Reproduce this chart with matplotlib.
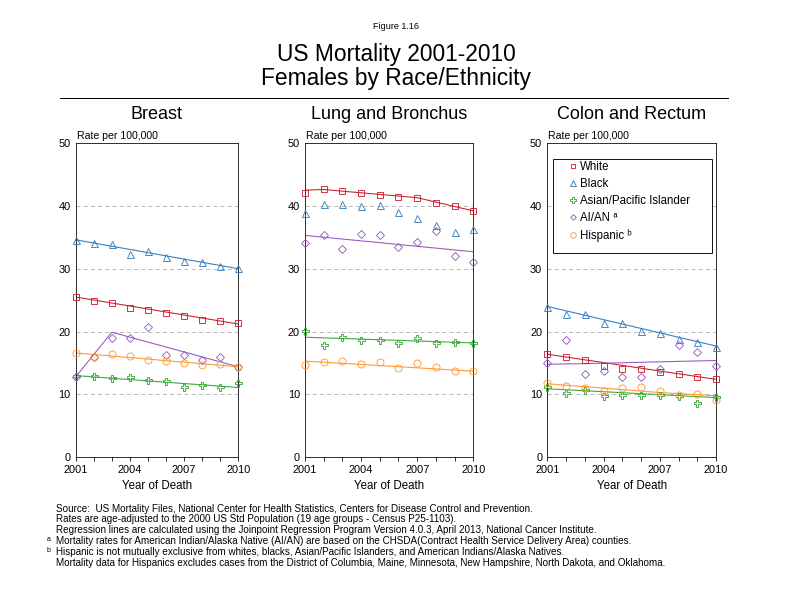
import numpy as np
import matplotlib.pyplot as plt
from matplotlib.patches import Rectangle

years = np.arange(2001, 2011)

breast_white = [25.5, 24.9, 24.6, 23.8, 23.5, 23.0, 22.4, 21.9, 21.7, 21.3]
breast_black = [34.6, 34.1, 34.0, 32.4, 32.8, 31.8, 31.3, 31.0, 30.4, 30.1]
breast_api = [13.0, 12.9, 12.6, 12.7, 12.3, 12.1, 11.2, 11.5, 11.2, 11.8]
breast_aian = [12.8, 16.0, 18.9, 19.0, 20.7, 16.3, 16.3, 15.4, 16.0, 14.3]
breast_hisp = [16.6, 16.0, 16.4, 16.1, 15.5, 15.3, 15.0, 14.7, 14.8, 14.3]

lung_white = [42.1, 42.7, 42.4, 42.1, 41.7, 41.4, 41.2, 40.4, 39.9, 39.2]
lung_black = [38.8, 40.3, 40.3, 39.9, 40.1, 39.0, 38.1, 36.9, 35.8, 36.3]
lung_api = [20.1, 17.9, 19.1, 18.6, 18.7, 18.2, 19.0, 18.2, 18.4, 18.2]
lung_aian = [34.1, 35.3, 33.2, 35.6, 35.4, 33.4, 34.2, 36.0, 32.0, 31.0]
lung_hisp = [14.7, 15.2, 15.3, 14.8, 15.1, 14.2, 15.0, 14.4, 13.8, 13.7]

colon_white = [16.4, 15.9, 15.4, 14.6, 14.1, 14.1, 13.6, 13.3, 12.7, 12.4]
colon_black = [23.9, 22.8, 22.8, 21.3, 21.4, 20.1, 19.8, 18.8, 18.4, 17.5]
colon_api = [11.2, 10.3, 10.7, 9.8, 9.9, 9.9, 9.9, 9.7, 8.6, 9.6]
colon_aian = [15.0, 18.7, 13.2, 13.8, 12.7, 12.8, 14.1, 17.9, 16.8, 14.5]
colon_hisp = [11.8, 11.4, 11.1, 10.6, 11.0, 11.2, 10.6, 9.9, 10.1, 9.1]

# joinpoint regression lines: (years, values)
breast_fit = {
    'white': ([2001, 2010], [25.5, 21.2]),
    'black': ([2001, 2010], [34.6, 30.0]),
    'api': ([2001, 2010], [13.0, 11.1]),
    'aian': ([2001, 2003, 2010], [12.8, 19.9, 14.4]),
    'hisp': ([2001, 2010], [16.6, 14.4]),
}
lung_fit = {
    'white': ([2001, 2002, 2007, 2010], [42.5, 42.6, 41.3, 39.2]),
    'api': ([2001, 2010], [19.1, 18.2]),
    'aian': ([2001, 2010], [35.3, 32.7]),
    'hisp': ([2001, 2010], [15.3, 13.7]),
}
colon_fit = {
    'white': ([2001, 2010], [16.4, 12.4]),
    'black': ([2001, 2010], [24.0, 17.7]),
    'api': ([2001, 2010], [10.9, 9.5]),
    'aian': ([2001, 2003, 2010], [14.8, 14.9, 15.4]),
    'hisp': ([2001, 2007, 2010], [11.7, 10.3, 9.8]),
}

groups = ['white', 'black', 'api', 'aian', 'hisp']
labels = ['White', 'Black', 'Asian/Pacific Islander', 'AI/AN \u1d43', 'Hispanic \u1d47']
colors = {'white': '#cc2233', 'black': '#3a7fc0', 'api': '#3aaa3a',
          'aian': '#9a5cc0', 'hisp': '#ff9a2e'}
markers = {'white': 's', 'black': '^', 'api': 'P', 'aian': 'D', 'hisp': 'o'}
msizes = {'white': 6, 'black': 7, 'api': 7, 'aian': 5.5, 'hisp': 7}

# title, data, fits, left/width in pixels
panels = [
    ('Breast', [breast_white, breast_black, breast_api, breast_aian, breast_hisp], breast_fit, 75.7, 162.6),
    ('Lung and Bronchus', [lung_white, lung_black, lung_api, lung_aian, lung_hisp], lung_fit, 305.0, 168.3),
    ('Colon and Rectum', [colon_white, colon_black, colon_api, colon_aian, colon_hisp], colon_fit, 547.3, 168.7),
]

plt.rcParams['font.family'] = ['Liberation Sans', 'DejaVu Sans']

W, H = 792, 612
fig = plt.figure(figsize=(11, 8.5), dpi=72)

fig.text(0.5, 1 - 29 / H, 'Figure 1.16', ha='center', va='baseline', fontsize=9)
fig.text(0.5, 1 - 61 / H, 'US Mortality 2001-2010', ha='center', va='baseline', fontsize=22.8)
fig.text(0.5, 1 - 85 / H, 'Females by Race/Ethnicity', ha='center', va='baseline', fontsize=22.8)
fig.add_artist(plt.Line2D([60 / W, 728 / W], [1 - 97.5 / H, 1 - 97.5 / H], color='black', lw=1))

ax_bottom = 1 - 457.3 / H
ax_height = (457.3 - 143) / H
ax_hpx = H * ax_height

for title, series, fits, left, width in panels:
    ax = fig.add_axes([left / W, ax_bottom, width / W, ax_height])
    for ax_y in [10, 20, 30, 40]:
        ax.axhline(ax_y, color='#aaaaaa', lw=0.8, ls=(0, (5, 4)), zorder=0)
    for g, vals in zip(groups, series):
        if g in fits:
            fx, fy = fits[g]
            ax.plot(fx, fy, color=colors[g], lw=1.1, zorder=2)
        ax.plot(years, vals, ls='none', marker=markers[g], ms=msizes[g],
                mfc='none', mec=colors[g], mew=0.9, zorder=3, clip_on=False)
    ax.set_xlim(2001, 2010)
    ax.set_ylim(0, 50)
    ax.set_xticks([2001, 2004, 2007, 2010])
    ax.set_xticks(years, minor=True)
    ax.set_yticks([0, 10, 20, 30, 40, 50])
    ax.tick_params(axis='x', which='both', labelsize=11, length=4, direction='out', width=0.8, pad=4)
    ax.tick_params(axis='y', labelsize=11, length=0, pad=5)
    for s in ax.spines.values():
        s.set_linewidth(0.8)
    ax.text(0.5, 1 + 24 / ax_hpx, title, transform=ax.transAxes,
            ha='center', va='baseline', fontsize=18)
    ax.text(1 / width, 1 + 4 / ax_hpx, 'Rate per 100,000', transform=ax.transAxes,
            fontsize=10.5, va='baseline')
    ax.set_xlabel('Year of Death', fontsize=11.5, labelpad=5)

    if title == 'Colon and Rectum':
        # legend box drawn separately so the padding matches
        bx0, bx1, by0, by1 = 553, 711.7, 159.3, 252.7
        box = Rectangle(((bx0 - left) / width, 1 - (by1 - 143) / ax_hpx),
                        (bx1 - bx0) / width, (by1 - by0) / ax_hpx,
                        transform=ax.transAxes, facecolor='white', edgecolor='black',
                        lw=0.9, zorder=5)
        ax.add_patch(box)
        handles = [plt.Line2D([], [], ls='none', marker=markers[g], ms=msizes[g] - 1.5,
                              mfc='none', mec=colors[g], mew=0.9) for g in groups]
        leg = ax.legend(handles, labels, loc='upper left',
                        bbox_to_anchor=((566 - left) / width, 1 - (161.5 - 143) / ax_hpx),
                        fontsize=11.5, frameon=False,
                        handletextpad=0.0, borderpad=0, labelspacing=0.43,
                        handlelength=1.2, borderaxespad=0)
        leg.set_zorder(6)

notes = [
    ('', 'Source:  US Mortality Files, National Center for Health Statistics, Centers for Disease Control and Prevention.'),
    ('', 'Rates are age-adjusted to the 2000 US Std Population (19 age groups - Census P25-1103).'),
    ('', 'Regression lines are calculated using the Joinpoint Regression Program Version 4.0.3, April 2013, National Cancer Institute.'),
    ('a', 'Mortality rates for American Indian/Alaska Native (AI/AN) are based on the CHSDA(Contract Health Service Delivery Area) counties.'),
    ('b', 'Hispanic is not mutually exclusive from whites, blacks, Asian/Pacific Islanders, and American Indians/Alaska Natives.'),
    ('', 'Mortality data for Hispanics excludes cases from the District of Columbia, Maine, Minnesota, New Hampshire, North Dakota, and Oklahoma.'),
]
for i, (sup, txt) in enumerate(notes):
    base = 511.5 + i * 10.8
    fig.text(56 / W, 1 - base / H, txt, fontsize=9.9, va='baseline')
    if sup:
        fig.text(46.5 / W, 1 - (base - 3) / H, sup, fontsize=7, va='baseline')

fig.savefig('out.png', dpi=72)
